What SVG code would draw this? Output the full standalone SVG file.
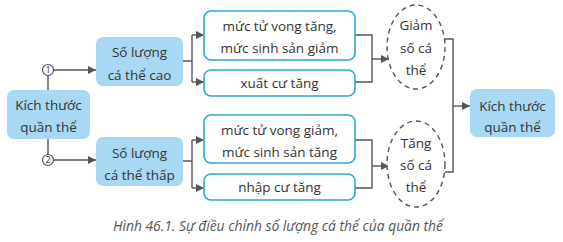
<svg xmlns="http://www.w3.org/2000/svg" width="563" height="242" viewBox="0 0 563 242">
<defs>
<marker id="ah" viewBox="0 0 10 10" refX="10" refY="5" markerWidth="8" markerHeight="8" markerUnits="userSpaceOnUse" orient="auto"><path d="M0,0L10,5L0,10z" fill="#555"/></marker>
<style>
text{font-family:"Open Sans","DejaVu Sans",sans-serif;font-size:13.5px;fill:#333;text-anchor:middle}
.fill{fill:#a9d8f4;stroke:none}
.box{fill:#fff;stroke:#2aa7df;stroke-width:1.6}
.ell{fill:#fff;stroke:#555;stroke-width:1.4;stroke-dasharray:5 4}
.ln{fill:none;stroke:#555;stroke-width:1.4}
.arr{fill:none;stroke:#555;stroke-width:1.4;marker-end:url(#ah)}
.cap{font-style:italic;font-size:14px;fill:#555;text-anchor:start}
.num{font-size:9px}
</style>
</defs>
<rect width="563" height="242" fill="#fff"/>
<g id="connectors">
<path class="ln" d="M48,90V76"/>
<path class="arr" d="M54,70H96"/>
<path class="ln" d="M48,139V154"/>
<path class="arr" d="M54,160H96"/>
<path class="ln" d="M183,61H192M192,35V82"/>
<path class="arr" d="M192,35H204"/>
<path class="arr" d="M192,82H204"/>
<path class="ln" d="M183,161H192M192,140V188"/>
<path class="arr" d="M192,140H204"/>
<path class="arr" d="M192,188H204"/>
<path class="ln" d="M355,35H372V82H355"/>
<path class="arr" d="M372,59H389"/>
<path class="ln" d="M355,140H372V188H355"/>
<path class="arr" d="M372,166H389"/>
<path class="ln" d="M445,39H453V172H445"/>
<path class="arr" d="M453,106H470"/>
</g>
<g id="n-circle1"><circle cx="48" cy="70" r="5.5" fill="#fff" stroke="#555" stroke-width="1.2"/><text class="num" x="48" y="73">1</text></g>
<g id="n-circle2"><circle cx="48" cy="160" r="5.5" fill="#fff" stroke="#555" stroke-width="1.2"/><text class="num" x="48" y="163">2</text></g>
<g id="n-left"><rect class="fill" x="7" y="90" width="83" height="49" rx="7"/><text x="48.5" y="110">Kích thước</text><text x="48.5" y="132">quần thể</text></g>
<g id="n-high"><rect class="fill" x="96" y="37" width="87" height="49" rx="7"/><text x="139.5" y="57">Số lượng</text><text x="139.5" y="80">cá thể cao</text></g>
<g id="n-low"><rect class="fill" x="96" y="137" width="87" height="49" rx="7"/><text x="139.5" y="158">Số lượng</text><text x="139.5" y="180">cá thể thấp</text></g>
<g id="n-b1"><rect class="box" x="204" y="11" width="151" height="49" rx="7"/><text x="279.5" y="31">mức tử vong tăng,</text><text x="279.5" y="53">mức sinh sản giảm</text></g>
<g id="n-b2"><rect class="box" x="204" y="70" width="151" height="26" rx="7"/><text x="279.5" y="88">xuất cư tăng</text></g>
<g id="n-b3"><rect class="box" x="204" y="115" width="151" height="48" rx="7"/><text x="279.5" y="135">mức tử vong giảm,</text><text x="279.5" y="157">mức sinh sản tăng</text></g>
<g id="n-b4"><rect class="box" x="204" y="174" width="151" height="26" rx="7"/><text x="279.5" y="192">nhập cư tăng</text></g>
<g id="n-e1"><ellipse class="ell" cx="416" cy="47" rx="29" ry="42"/><text x="416" y="30">Giảm</text><text x="416" y="53">số cá</text><text x="416" y="75">thể</text></g>
<g id="n-e2"><ellipse class="ell" cx="416" cy="164" rx="29" ry="43"/><text x="416" y="148">Tăng</text><text x="416" y="170">số cá</text><text x="416" y="192">thể</text></g>
<g id="n-right"><rect class="fill" x="470" y="89" width="85" height="48" rx="7"/><text x="512.5" y="111">Kích thước</text><text x="512.5" y="132">quần thể</text></g>
<text class="cap" x="113" y="231" textLength="330" lengthAdjust="spacingAndGlyphs">Hình 46.1. Sự điều chỉnh số lượng cá thể của quần thể</text>
</svg>
